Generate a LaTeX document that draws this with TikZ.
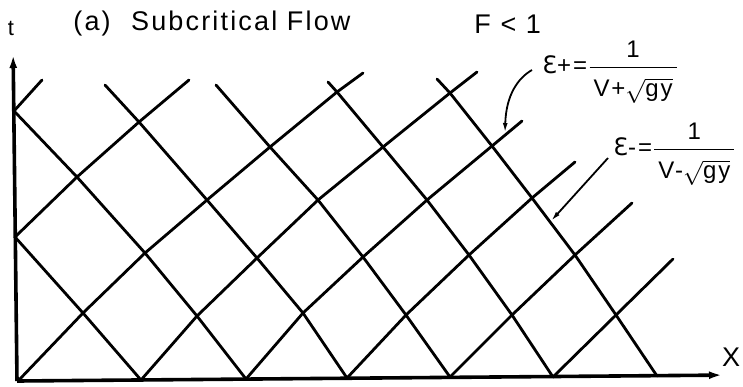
\documentclass[tikz,border=0pt]{standalone}
\usepackage{fontspec}
\setmainfont{Liberation Sans}
\newfontfamily\lettering[LetterSpace=8]{Liberation Sans}
\newfontfamily\epsfont{DejaVu Sans}
\usepackage{tikz}
\usetikzlibrary{arrows.meta}
\tikzstyle{charline} = [line width=1.4pt, line join=round, line cap=round]
\tikzstyle{axis} = [line width=1.8pt, -{Latex[length=12pt,width=3.4pt]}]
\tikzstyle{pointer} = [line width=0.9pt, -{Latex[length=5pt,width=2.4pt]}]
\tikzstyle{lbl} = [font=\lettering\fontsize{13.5}{15}\selectfont, inner sep=0pt]
\tikzstyle{slopelbl} = [font=\lettering\fontsize{12}{14}\selectfont, inner sep=0pt]
\newcommand{\eps}{{\epsfont Ɛ}}
\newcommand{\slopefrac}[1]{$\displaystyle\frac{\mbox{1}\rule[-3pt]{0pt}{1pt}}{\rule{0pt}{13pt}\mbox{\,V#1}\sqrt{\mbox{gy}}\,}$}

\begin{document}
\begin{tikzpicture}[x=0.5pt,y=-0.5pt]
\useasboundingbox (0,0) rectangle (743,386);

% axes
\coordinate (origin) at (17,381);
\coordinate (tend) at (13,44);
\coordinate (xend) at (733,375);
\draw[axis] (origin) -- (tend);
\draw[axis] (origin) -- (xend);
\node[lbl, font=\lettering\fontsize{11}{13}\selectfont] (tlabel) at (11,28) {t};
\node[lbl] (xlabel) at (731,357) {X};
\node[lbl, anchor=west] (title) at (73,24) {(a)\hspace{0.4em} Subcritical Flow};
\node[lbl, anchor=west] (froude) at (474,24) {F < 1};

% feet on the x axis and on the t axis
\coordinate (b0) at (18,381);
\coordinate (b1) at (141,380);
\coordinate (b2) at (246,379);
\coordinate (b3) at (347,378);
\coordinate (b4) at (450,377);
\coordinate (b5) at (553,377);
\coordinate (b6) at (657,376);
\coordinate (a1) at (15,237);
\coordinate (a2) at (14,111);

% crossings
\coordinate (p0n1) at (83,313);
\coordinate (p1n2) at (197,316);
\coordinate (p2n3) at (303,313);
\coordinate (p3n4) at (406,315);
\coordinate (p4n5) at (512,315);
\coordinate (p5n6) at (616,315);
\coordinate (p0n2) at (145,253);
\coordinate (p1n3) at (257,258);
\coordinate (p2n4) at (363,257);
\coordinate (p3n5) at (469,255);
\coordinate (p4n6) at (575,255);
\coordinate (p0n3) at (207,200);
\coordinate (p1n4) at (318,200);
\coordinate (p2n5) at (427,200);
\coordinate (p3n6) at (532,198);
\coordinate (p0n4) at (270,147);
\coordinate (p1n5) at (383,147);
\coordinate (p2n6) at (492,146);
\coordinate (p0n5) at (337,92);
\coordinate (p1n6) at (450,93);
\coordinate (pbn2) at (77,177);
\coordinate (pbn3) at (139,122);

% free ends
\coordinate (pa) at (42,80);
\coordinate (pb) at (189,80);
\coordinate (p0) at (363,73);
\coordinate (p1) at (477,72);
\coordinate (p2) at (522,121);
\coordinate (p3) at (575,162);
\coordinate (p4) at (632,203);
\coordinate (p5) at (673,259);
\coordinate (n3) at (105,85);
\coordinate (n4) at (216,85);
\coordinate (n5) at (328,82);
\coordinate (n6) at (437,79);

% positive characteristics
\draw[charline] (a2) -- (pa);
\draw[charline] (a1) -- (pbn2) -- (pbn3) -- (pb);
\draw[charline] (b0) -- (p0n1) -- (p0n2) -- (p0n3) -- (p0n4) -- (p0n5) -- (p0);
\draw[charline] (b1) -- (p1n2) -- (p1n3) -- (p1n4) -- (p1n5) -- (p1n6) -- (p1);
\draw[charline] (b2) -- (p2n3) -- (p2n4) -- (p2n5) -- (p2n6) -- (p2);
\draw[charline] (b3) -- (p3n4) -- (p3n5) -- (p3n6) -- (p3);
\draw[charline] (b4) -- (p4n5) -- (p4n6) -- (p4);
\draw[charline] (b5) -- (p5n6) -- (p5);

% negative characteristics
\draw[charline] (a1) -- (p0n1) -- (b1);
\draw[charline] (a2) -- (pbn2) -- (p0n2) -- (p1n2) -- (b2);
\draw[charline] (n3) -- (pbn3) -- (p0n3) -- (p1n3) -- (p2n3) -- (b3);
\draw[charline] (n4) -- (p0n4) -- (p1n4) -- (p2n4) -- (p3n4) -- (b4);
\draw[charline] (n5) -- (p0n5) -- (p1n5) -- (p2n5) -- (p3n5) -- (p4n5) -- (b5);
\draw[charline] (n6) -- (p1n6) -- (p2n6) -- (p3n6) -- (p4n6) -- (p5n6) -- (b6);

% slope labels
\node[slopelbl, anchor=west] (eplus) at (542,72) {\eps+=\slopefrac{+}};
\node[slopelbl, anchor=west] (eminus) at (613,154) {\eps-=\slopefrac{-}};
\coordinate (onp2) at (505,133);
\coordinate (onn6) at (551,221);
\draw[pointer] ([xshift=-5pt,yshift=1pt]eplus.west) .. controls (518,78) and (506,95) .. (onp2);
\draw[pointer] ([xshift=-2.5pt,yshift=-2pt]eminus.west) -- (onn6);
\end{tikzpicture}
\end{document}
